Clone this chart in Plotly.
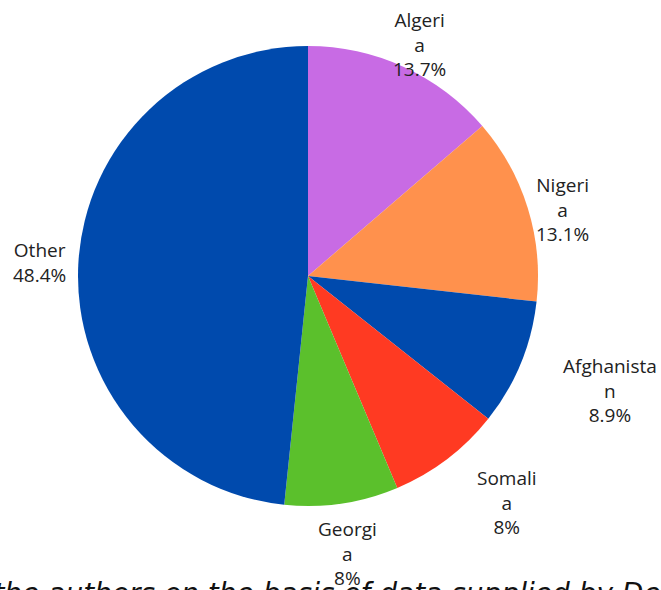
import math
import plotly.graph_objects as go

labels = ["Algeria", "Nigeria", "Afghanistan", "Somalia", "Georgia", "Other"]
wrapped = ["Algeri<br>a", "Nigeri<br>a", "Afghanista<br>n", "Somali<br>a", "Georgi<br>a", "Other"]
values = [13.7, 13.1, 8.9, 8, 8, 48.4]
colors = ["#C86BE4", "#FF914D", "#004AAD", "#FF3A22", "#5BC02C", "#004AAD"]
caption = "Source: compiled by the authors on the basis of data supplied by Department of Home Affairs"

# layout / style parameters
W, H = 661, 590
ML, MR, MT, MB = 78, 123, 46, 84
R = (W - ML - MR) / 2            # pie radius in px
label_dist = [1.117, 1.145, 1.405, 1.31, 1.22, 1.167]   # label distance, in pie radii
label_nudge_deg = [1.2, 2.6, -1.7, -4.1, 0.3, 0.0]      # small angular nudge of labels

fig = go.Figure(go.Pie(
    labels=labels, values=values,
    textinfo="none", sort=False, direction="clockwise", rotation=0,
    marker=dict(colors=colors),
    showlegend=False, hoverinfo="label+percent",
))

# slice labels placed along each slice's mid-angle
total = sum(values)
cum = 0.0
for w, v, k, nd in zip(wrapped, values, label_dist, label_nudge_deg):
    mid = (cum + v / 2) / total * 2 * math.pi + math.radians(nd)
    cum += v
    dx = math.sin(mid) * k * R
    dy = math.cos(mid) * k * R
    fig.add_annotation(
        text=f"{w}<br>{v:g}%", xref="paper", yref="paper",
        x=0.5 + dx / (2 * R), y=0.5 + dy / (2 * R),
        xanchor="center", yanchor="middle", showarrow=False,
        font=dict(family="Open Sans", size=19, color="#222222"),
    )

fig.add_annotation(
    text="<i>" + caption + "</i>", xref="paper", yref="paper", x=-0.83, y=-0.15,
    xanchor="left", yanchor="top", showarrow=False,
    font=dict(family="DejaVu Sans", size=28, color="#111111"),
)
fig.update_layout(
    width=W, height=H,
    margin=dict(l=ML, r=MR, t=MT, b=MB),
    paper_bgcolor="white", plot_bgcolor="white",
)
fig.write_html("out.html")
